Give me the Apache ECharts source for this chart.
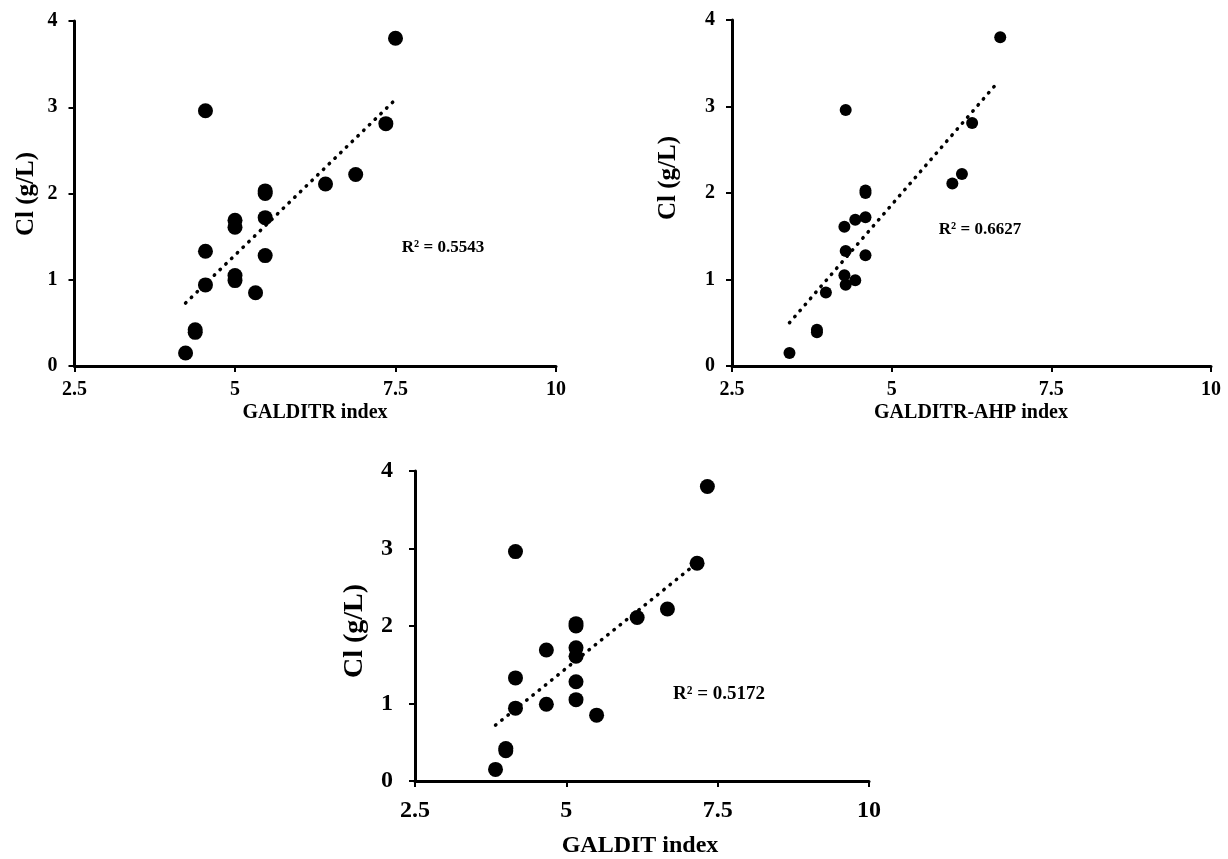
<!DOCTYPE html>
<html>
<head>
<meta charset="utf-8">
<script src="https://cdn.jsdelivr.net/npm/echarts@6/dist/echarts.min.js"></script>
<style>
html,body{margin:0;padding:0;background:#fff;}
#main{width:1228px;height:859px;}
</style>
</head>
<body>
<div id="main"></div>
<script>
// Cl concentration (g/L) for each sample
const clValues = [3.80, 2.96, 2.81, 2.22, 2.11, 2.03, 2.00, 1.72, 1.69, 1.61, 1.33, 1.28, 1.05, 0.99, 0.94, 0.85, 0.42, 0.39, 0.15];
// Index values per sample
const galditrIndex    = [7.50, 4.54, 7.35, 6.88, 6.41, 5.47, 5.47, 5.47, 5.00, 5.00, 4.54, 5.47, 5.00, 5.00, 4.54, 5.32, 4.38, 4.38, 4.23];
const galditrAhpIndex = [6.70, 4.28, 6.26, 6.10, 5.95, 4.59, 4.59, 4.59, 4.43, 4.26, 4.28, 4.59, 4.26, 4.43, 4.28, 3.97, 3.83, 3.83, 3.40];
const galditIndex     = [7.33, 4.16, 7.16, 6.67, 6.17, 5.16, 5.16, 5.16, 4.67, 5.16, 4.16, 5.16, 5.16, 4.67, 4.16, 5.50, 4.00, 4.00, 3.83];
// Linear trend line end points
const trend1X = [4.23, 7.50], trend1Y = [0.73, 3.09];
const trend2X = [3.40, 6.65], trend2Y = [0.50, 3.27];
const trend3X = [3.83, 7.33], trend3Y = [0.72, 2.92];
// Labels
const xTitles = ['GALDITR index', 'GALDITR-AHP index', 'GALDIT index'];
const yTitle = 'Cl (g/L)';
const r2Labels = ['R² = 0.5543', 'R² = 0.6627', 'R² = 0.5172'];

const FONT = "'Liberation Serif', 'Times New Roman', serif";
const pairs = (xs, ys) => xs.map((x, i) => [x, ys[i]]);

const grids = [
  {left: 74.5, top: 21, width: 481.5, height: 345},
  {left: 732, top: 20, width: 479, height: 346},
  {left: 415, top: 471, width: 454, height: 310}
];
const tickFont = [20, 20, 24];
const symSize = [15, 12, 15];

function xAxisCfg(i) {
  return {
    gridIndex: i, type: 'value', min: 2.5, max: 10, interval: 2.5,
    axisLine: {show: true, onZero: false, lineStyle: {color: '#000', width: 3}},
    axisTick: {show: true, inside: false, length: 6, lineStyle: {color: '#000', width: 2}},
    splitLine: {show: false},
    axisLabel: {color: '#000', fontFamily: FONT, fontWeight: 'bold', fontSize: tickFont[i], margin: i === 2 ? 18 : 14}
  };
}
function yAxisCfg(i) {
  return {
    gridIndex: i, type: 'value', min: 0, max: 4, interval: 1,
    axisLine: {show: true, onZero: false, lineStyle: {color: '#000', width: 3}},
    axisTick: {show: true, inside: false, length: 6, lineStyle: {color: '#000', width: 2}},
    splitLine: {show: false},
    axisLabel: {color: '#000', fontFamily: FONT, fontWeight: 'bold', fontSize: tickFont[i], margin: i === 2 ? 22 : 17}
  };
}

const scatterData = [galditrIndex, galditrAhpIndex, galditIndex];
const trends = [[trend1X, trend1Y], [trend2X, trend2Y], [trend3X, trend3Y]];
const series = [];
for (let i = 0; i < 3; i++) {
  series.push({
    type: 'line', xAxisIndex: i, yAxisIndex: i,
    data: pairs(trends[i][0], trends[i][1]),
    symbol: 'none', silent: true, z: 1,
    lineStyle: {color: '#000', width: 3.5, type: [0.5, 7.5], cap: 'round'}
  });
  series.push({
    type: 'scatter', xAxisIndex: i, yAxisIndex: i,
    data: pairs(scatterData[i], clValues),
    symbol: 'circle', symbolSize: symSize[i], z: 3,
    itemStyle: {color: '#000', opacity: 1}
  });
}

const titleStyle = (size) => ({fill: '#000', fontFamily: FONT, fontWeight: 'bold', fontSize: size, align: 'center', verticalAlign: 'middle'});
const graphic = [
  {type: 'text', x: 315, y: 413, style: Object.assign({text: xTitles[0]}, titleStyle(20))},
  {type: 'text', x: 971, y: 413, style: Object.assign({text: xTitles[1]}, titleStyle(20))},
  {type: 'text', x: 640, y: 846, style: Object.assign({text: xTitles[2]}, titleStyle(24))},
  {type: 'text', x: 27, y: 194, rotation: Math.PI / 2, style: Object.assign({text: yTitle}, titleStyle(25))},
  {type: 'text', x: 669, y: 178, rotation: Math.PI / 2, style: Object.assign({text: yTitle}, titleStyle(25))},
  {type: 'text', x: 355, y: 631, rotation: Math.PI / 2, style: Object.assign({text: yTitle}, titleStyle(28))},
  {type: 'text', x: 443, y: 248, style: Object.assign({text: r2Labels[0]}, titleStyle(17))},
  {type: 'text', x: 980, y: 230, style: Object.assign({text: r2Labels[1]}, titleStyle(17))},
  {type: 'text', x: 719, y: 694, style: Object.assign({text: r2Labels[2]}, titleStyle(19))}
];

const chart = echarts.init(document.getElementById('main'), null, {renderer: 'canvas'});
chart.setOption({
  backgroundColor: '#fff',
  animation: false,
  grid: grids,
  xAxis: [0, 1, 2].map(xAxisCfg),
  yAxis: [0, 1, 2].map(yAxisCfg),
  series: series,
  graphic: graphic
});
</script>
</body>
</html>
